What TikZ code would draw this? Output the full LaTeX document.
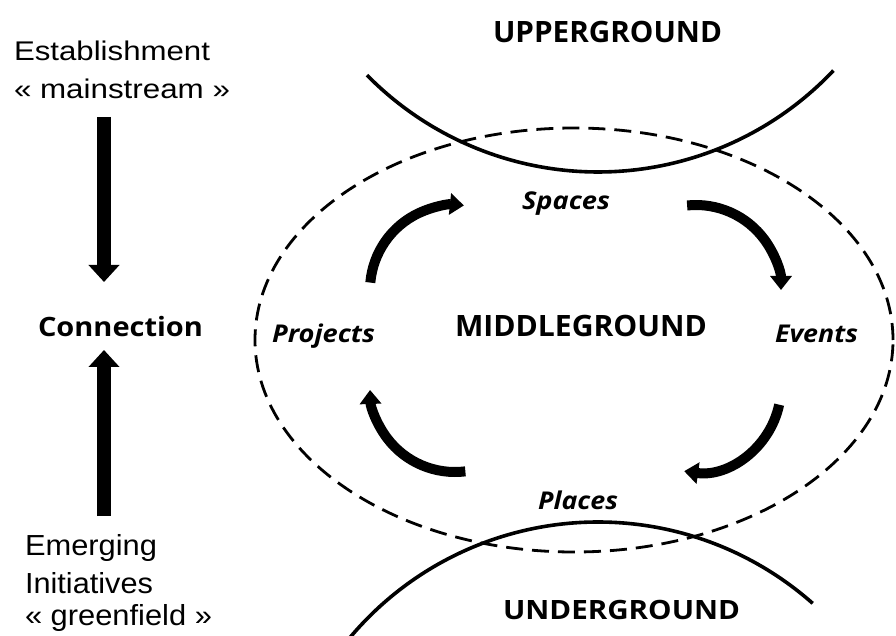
\documentclass[tikz,border=0pt]{standalone}
\usepackage{fontspec}
\usepackage{graphicx}
\usetikzlibrary{arrows.meta}
\newfontfamily\arialf{Liberation Sans}
\newfontfamily\osf{Open Sans}
\newcommand\fitw[2]{\resizebox{#1}{\height}{#2}}
\tikzset{
  txt/.style={anchor=base west, inner sep=0pt, outer sep=0pt},
  plain/.style={txt, font=\arialf\fontsize{27}{30}\selectfont},
  plainb/.style={txt, font=\arialf\fontsize{29}{32}\selectfont},
  heavy/.style={txt, font=\osf\bfseries\fontsize{29.4}{32}\selectfont},
  heavys/.style={txt, font=\osf\bfseries\fontsize{26.6}{30}\selectfont},
  ital/.style={txt, font=\osf\bfseries\itshape\fontsize{24.5}{28}\selectfont},
  bigarrow/.style={line width=14pt, -{Triangle[length=17pt,width=30pt]}},
  cyc/.style={line width=10pt, -{Triangle[length=14pt,width=21pt]}},
  ground/.style={line width=3.6pt},
  zone/.style={line width=2.8pt, dash pattern=on 17pt off 9pt},
}
\begin{document}
\begin{tikzpicture}[x=1pt,y=1pt]
\useasboundingbox (0,0) rectangle (896,635);
% left column
\node[plain] (est) at (14,574) {\fitw{196pt}{Establishment}};
\node[plain] (main) at (14,536) {\fitw{216pt}{« mainstream »}};
\node[heavys] (con) at (38,298) {\fitw{165pt}{Connection}};
\node[plainb] (emg) at (25,80) {\fitw{132pt}{Emerging}};
\node[plainb] (ini) at (25,42) {\fitw{128pt}{Initiatives}};
\node[plainb] (grn) at (25,10) {\fitw{187pt}{« greenfield »}};
\coordinate (d1) at (104,518);
\coordinate (d2) at (104,353);
\coordinate (u1) at (104,119);
\coordinate (u2) at (104,285);
\draw[bigarrow] (d1) -- (d2);
\draw[bigarrow] (u1) -- (u2);
% grounds
\node[heavy] (upg) at (493,592) {\fitw{229pt}{UPPERGROUND}};
\node[heavy] (mid) at (455,298) {\fitw{252pt}{MIDDLEGROUND}};
\node[txt, font=\osf\bfseries\fontsize{26.6}{30}\selectfont] (ung) at (503,16) {\fitw{237pt}{UNDERGROUND}};
\draw[ground] (598,787) ++(224.5:324) arc[start angle=224.5, end angle=316.6, radius=324];
\draw[ground] (598,-211) ++(141:324) arc[start angle=141, end angle=48.5, radius=324];
\draw[zone] (574,295) ellipse[x radius=319, y radius=212];
% labels of the cycle
\node[ital] (spa) at (522,425) {\fitw{88pt}{Spaces}};
\node[ital] (eve) at (775,292) {\fitw{83pt}{Events}};
\node[ital] (pla) at (538,126) {\fitw{80pt}{Places}};
\node[ital] (pro) at (272,292) {\fitw{103pt}{Projects}};
% cycle arrows
\draw[cyc] (455,345) ++(175:85) arc[start angle=175, end angle=84, radius=85];
\draw[cyc] (696,345) ++(96:85) arc[start angle=96, end angle=0, radius=85];
\draw[cyc] (696,248) ++(348:85) arc[start angle=348, end angle=262, radius=85];
\draw[cyc] (455,248) ++(277:85) arc[start angle=277, end angle=182, radius=85];
\end{tikzpicture}
\end{document}
